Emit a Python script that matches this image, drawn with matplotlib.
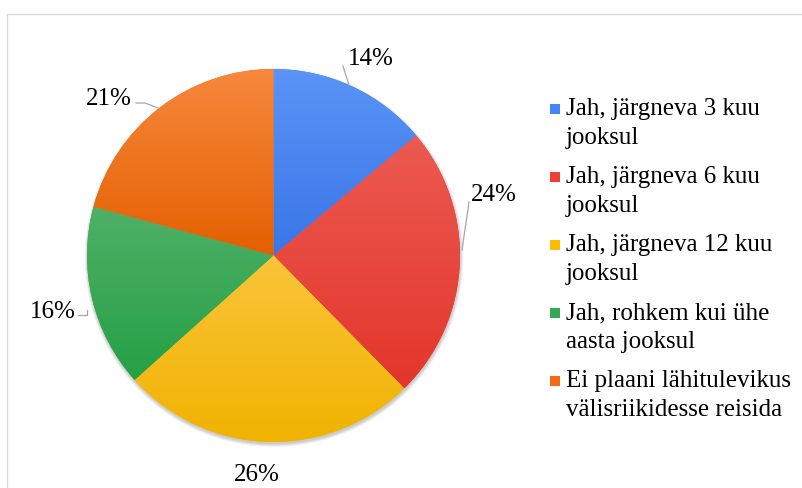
import numpy as np
import matplotlib.pyplot as plt
from matplotlib.colors import LinearSegmentedColormap
from matplotlib.patches import Rectangle, Circle

plt.rcParams['font.family'] = ['Liberation Serif', 'DejaVu Serif']

# answers and their shares (%)
labels = [
    'Jah, järgneva 3 kuu\njooksul',
    'Jah, järgneva 6 kuu\njooksul',
    'Jah, järgneva 12 kuu\njooksul',
    'Jah, rohkem kui ühe\naasta jooksul',
    'Ei plaani lähitulevikus\nvälisriikidesse reisida',
]
shares = [14, 24, 26, 16, 21]

base_colors = ['#4285F4', '#EA4335', '#FBBC05', '#34A853', '#F56B15']
top_colors = ['#5A94F6', '#EC5A51', '#FAC43A', '#4FB067', '#F7883D']
bottom_colors = ['#3A76E8', '#E3362C', '#F0B300', '#25A045', '#E46000']

W, H = 802, 488
FS = 18
fig = plt.figure(figsize=(W / 100, H / 100), dpi=100)
ax = fig.add_axes([0, 0, 1, 1])

cx, cy, r = 273.5, H - 255.5, 186.5

# soft shadow under the pie
for k in range(6):
    ax.add_patch(Circle((cx + 0.5, cy - 2.0), r + 0.6 * k, color='black',
                        alpha=0.035, lw=0, zorder=1))

wedges, _ = ax.pie(shares, startangle=90, counterclock=False,
                   center=(cx, cy), radius=r, colors=base_colors,
                   wedgeprops=dict(linewidth=0))

# vertical gradient inside each slice
grad = np.linspace(0, 1, 256).reshape(-1, 1)
for w, c_top, c_bot in zip(wedges, top_colors, bottom_colors):
    w.set_zorder(2)
    ext = w.get_path().get_extents()
    cmap = LinearSegmentedColormap.from_list('g', [c_bot, c_top])
    im = ax.imshow(grad, cmap=cmap, origin='lower', aspect='auto',
                   extent=[ext.x0, ext.x1, ext.y0, ext.y1],
                   interpolation='bilinear', zorder=3)
    im.set_clip_path(w)

# percentage labels (x centre, baseline from top)
pct_pos = [(371, 65), (494, 201), (257, 481), (53, 318), (109, 105)]
for v, (x, yb) in zip(shares, pct_pos):
    ax.text(x, H - yb, f'{v}%', ha='center', va='baseline',
            fontsize=FS, color='black', zorder=5)

# leader lines
leaders = [
    [(343, 66), (349, 85)],
    [(469, 202), (462, 250)],
    None,
    [(78, 315), (87, 315), (87, 310)],
    [(136, 103), (145, 103), (158, 108)],
]
for pts in leaders:
    if pts is None:
        continue
    xs = [p[0] for p in pts]
    ys = [H - p[1] for p in pts]
    ax.plot(xs, ys, color='#A6A6A6', lw=0.9, zorder=4)

# legend: square next to the first line, each line on its own baseline
for i, (lab, col) in enumerate(zip(labels, base_colors)):
    yb = 115 + 68 * i
    ax.add_patch(Rectangle((550, H - yb + 1.5), 10, 10, color=col, lw=0, zorder=5))
    for j, line in enumerate(lab.split('\n')):
        ax.text(566, H - (yb + 29 * j), line, ha='left', va='baseline',
                fontsize=FS, color='black', zorder=5)

# chart frame
ax.plot([7, 7, W + 5], [-5, H - 14, H - 14], color='#D9D9D9', lw=1.0, zorder=0)

ax.set_xlim(0, W)
ax.set_ylim(0, H)
ax.axis('off')

fig.savefig('out.png', dpi=100)
